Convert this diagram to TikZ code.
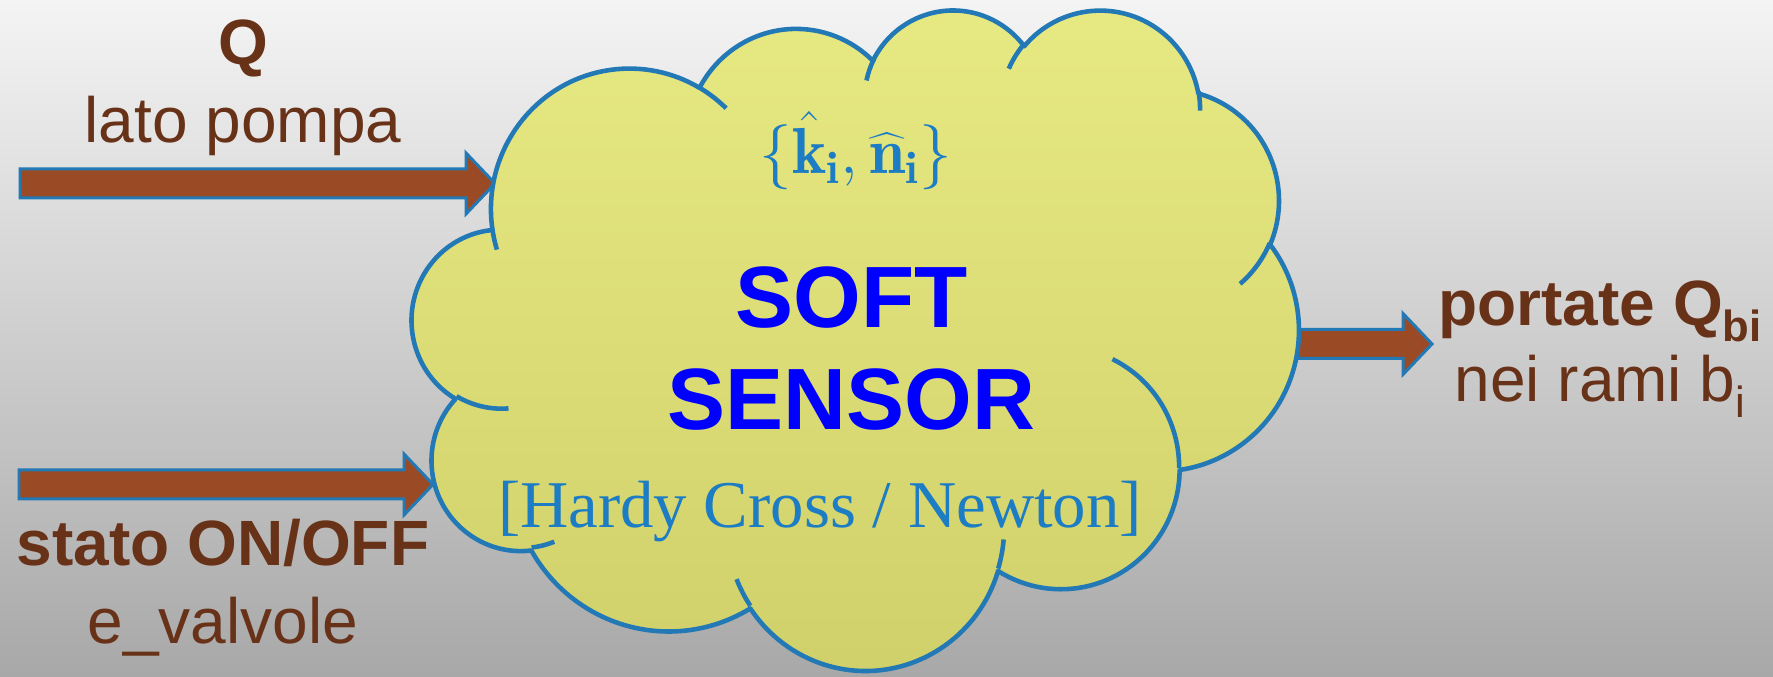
\RequirePackage{fix-cm}
\documentclass[tikz,border=0pt]{standalone}
\usepackage{fontspec}
\setsansfont{Liberation Sans}
\newfontfamily\methodfont{Liberation Serif}
\usetikzlibrary{calc}

\definecolor{bgtop}{RGB}{244,244,244}
\definecolor{bgbot}{RGB}{168,168,168}
\definecolor{txtbrown}{RGB}{104,50,24}
\definecolor{arrowfill}{RGB}{154,75,38}
\definecolor{edgeblue}{RGB}{34,121,181}
\definecolor{cloudtop}{RGB}{231,233,131}
\definecolor{cloudbot}{RGB}{208,208,106}
\definecolor{mathblue}{RGB}{28,124,196}
\definecolor{softblue}{RGB}{0,0,255}

\tikzset{
  lbl/.style={text=txtbrown, inner sep=0pt, anchor=base,
    font=\sffamily\fontsize{18.2pt}{21.8pt}\selectfont},
  lblbold/.style={lbl, font=\sffamily\bfseries\fontsize{18.2pt}{21.8pt}\selectfont},
  blockarrow/.style={fill=arrowfill, draw=edgeblue, line width=0.85pt, line join=miter},
  cloudedge/.style={draw=edgeblue, line width=1.3pt, line join=round, line cap=butt},
  softtxt/.style={text=softblue, inner sep=0pt, anchor=base,
    font=\sffamily\bfseries\fontsize{24.75pt}{29pt}\selectfont},
  methodtxt/.style={text=mathblue, inner sep=0pt, anchor=base},
}

% lowered small index after a label word
\newcommand{\lowidx}[1]{\raisebox{-4.3pt}{\fontsize{12.4pt}{14pt}\selectfont #1}}

% horizontal block arrow from #1 (tail) to #2 (tip)
\newcommand{\blockarr}[2]{%
  \draw[blockarrow] ($(#1)+(0,14.5)$) -- ($(#2)+(-29,14.5)$) -- ($(#2)+(-29,30.5)$)
    -- (#2) -- ($(#2)+(-29,-30.5)$) -- ($(#2)+(-29,-14.5)$) -- ($(#1)+(0,-14.5)$) -- cycle;}

\begin{document}
\begin{tikzpicture}[x=0.01cm, y=0.01cm]
\useasboundingbox (0,0) rectangle (1773,677);
\shade[top color=bgtop, bottom color=bgbot] (0,0) rectangle (1773,677);

% inputs and output
\coordinate (qin) at (20,493.5);
\coordinate (qtip) at (495,493.5);
\coordinate (sin) at (19,192.5);
\coordinate (stip) at (433,192.5);
\coordinate (oin) at (1290,333);
\coordinate (otip) at (1432,333);
\blockarr{qin}{qtip}
\blockarr{sin}{stip}
\blockarr{oin}{otip}

% cloud outline
\path[cloudedge, top color=cloudtop, bottom color=cloudbot] (492.2,449.04)
  arc[start angle=187.74, end angle=59.63, x radius=138.55, y radius=140.46]
  arc[start angle=152.02, end angle=45.46, x radius=109.42, y radius=111.07]
  arc[start angle=153.49, end angle=37.34, x radius=89.56, y radius=90.86]
  arc[start angle=139.72, end angle=10.21, x radius=99.65, y radius=100.80]
  arc[start angle=74.77, end angle=-23.21, x radius=109.42, y radius=111.16]
  arc[start angle=37.54, end angle=-81.86, x radius=139.00, y radius=140.92]
  arc[start angle=-0.46, end angle=-121.98, x radius=118.69, y radius=120.24]
  arc[start angle=-16.85, end angle=-146.22, x radius=138.53, y radius=140.84]
  arc[start angle=-58.98, end angle=-150.18, x radius=158.39, y radius=161.14]
  arc[start angle=-83.31, end angle=-223.09, x radius=89.45, y radius=90.45]
  arc[start angle=-120.36, end angle=-264.11, x radius=89.15, y radius=90.86]
  -- cycle;

% inner puff lines of the cloud
\draw[cloudedge] (508.49,268.58) arc[start angle=-85.55, end angle=-120.36, x radius=89.15, y radius=90.86];
\draw[cloudedge] (554.34,135.27) arc[start angle=-68.24, end angle=-83.31, x radius=89.45, y radius=90.45];
\draw[cloudedge] (750.28,71.22) arc[start angle=-146.22, end angle=-158.47, x radius=138.53, y radius=140.84];
\draw[cloudedge] (1003.64,137.54) arc[start angle=-4.74, end angle=-16.85, x radius=138.53, y radius=140.84];
\draw[cloudedge] (1112.43,317.84) arc[start angle=64.03, end angle=-0.46, x radius=118.69, y radius=120.24];
\draw[cloudedge] (1269.77,434.0) arc[start angle=-23.21, end angle=-49.64, x radius=109.42, y radius=111.16];
\draw[cloudedge] (1198.49,585.74) arc[start angle=10.21, end angle=-0.82, x radius=99.65, y radius=100.80];
\draw[cloudedge] (1008.79,608.27) arc[start angle=156.30, end angle=139.72, x radius=99.65, y radius=100.80];
\draw[cloudedge] (866.47,596.53) arc[start angle=167.73, end angle=153.49, x radius=89.56, y radius=90.86];
\draw[cloudedge] (699.44,589.32) arc[start angle=59.63, end angle=45.74, x radius=138.55, y radius=140.46];
\draw[cloudedge] (496.87,427.35) arc[start angle=-163.19, end angle=-172.26, x radius=138.55, y radius=140.46];

% texts inside the cloud
\node[methodtxt, font=\fontsize{18.5pt}{21pt}\selectfont] (param) at (856,503)
  {$\bigl\{\hat{\mathbf{k}}_{\mathbf{i}},\widehat{\mathbf{n}}_{\mathbf{i}}\bigr\}$};
\node[softtxt] (soft) at (851.5,349) {SOFT};
\node[softtxt] (sensor) at (851.5,247.4) {SENSOR};
\node[methodtxt, font=\methodfont\fontsize{19pt}{22pt}\selectfont] (method) at (820,149.4) {[Hardy Cross / Newton]};

% labels
\node[lblbold] (q) at (243,612) {Q};
\node[lbl] (lato) at (243,534.5) {lato pompa};
\node[lblbold] (stato) at (223,111) {stato ON/OFF};
\node[lbl] (valv) at (223,33) {e\_valvole};
\node[lblbold] (port) at (1600,351) {portate Q\lowidx{bi}};
\node[lbl] (rami) at (1600,275) {nei rami b\lowidx{i}};
\end{tikzpicture}
\end{document}
